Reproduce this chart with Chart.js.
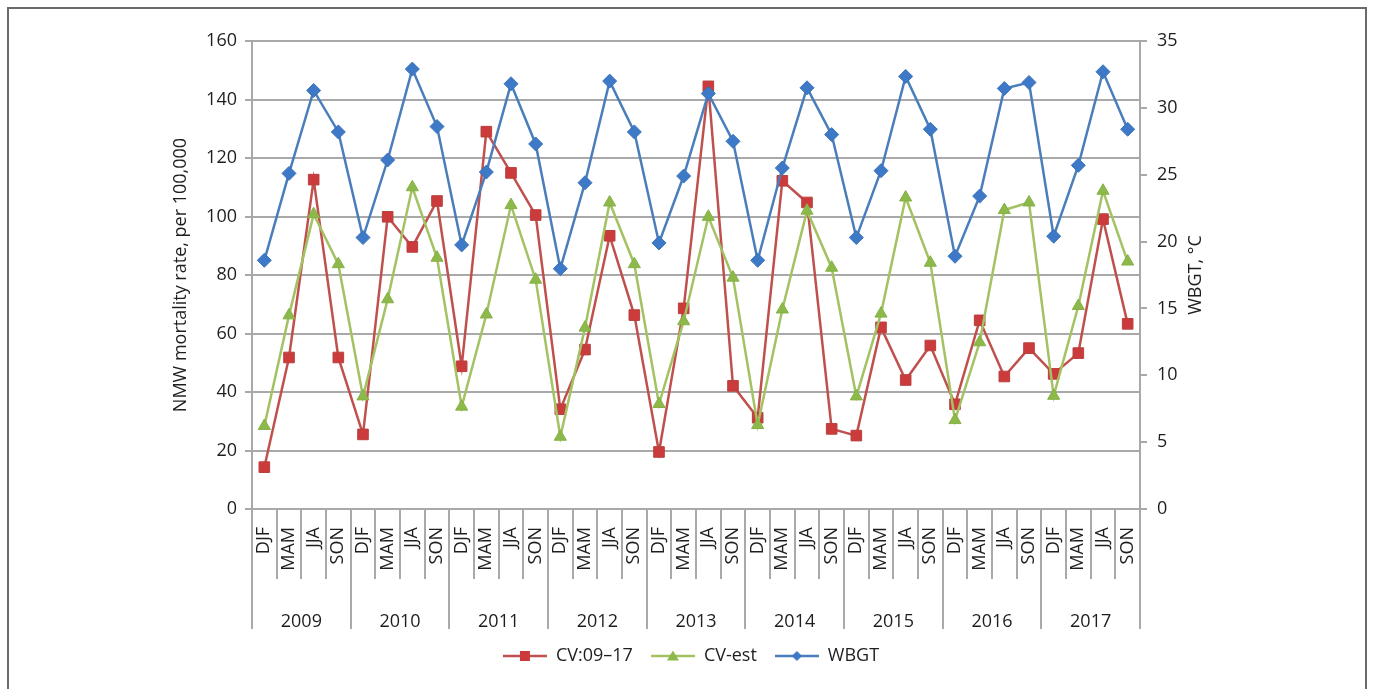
<!DOCTYPE html>
<html><head><meta charset="utf-8">
<script src="https://cdn.jsdelivr.net/npm/chart.js@4/dist/chart.umd.min.js"></script>
<style>
html,body{margin:0;padding:0;background:#fff;overflow:hidden;}
#wrap{position:absolute;left:0;top:0;width:1375px;height:689px;}
#frame{position:absolute;left:7px;top:7px;width:1360px;height:720px;border:2px solid #6a6a6a;box-sizing:border-box;pointer-events:none;}
</style></head><body>
<div id="wrap"><canvas id="c" width="1375" height="689"></canvas></div>
<div id="frame"></div>
<script>
const seasons = ['DJF','MAM','JJA','SON','DJF','MAM','JJA','SON','DJF','MAM','JJA','SON',
                 'DJF','MAM','JJA','SON','DJF','MAM','JJA','SON','DJF','MAM','JJA','SON',
                 'DJF','MAM','JJA','SON','DJF','MAM','JJA','SON','DJF','MAM','JJA','SON'];
const years = ['2009','2010','2011','2012','2013','2014','2015','2016','2017'];
const cvObserved = [14.3, 51.8, 112.6, 51.8, 25.5, 99.9, 89.6, 105.3, 48.8, 129, 114.9, 100.5,
                    34.1, 54.5, 93.4, 66.3, 19.5, 68.6, 144.5, 42.1, 31.2, 112.2, 104.8, 27.4,
                    25.1, 62.1, 44.1, 55.9, 35.8, 64.5, 45.3, 55, 46.2, 53.3, 99.1, 63.3];
const cvEstimated = [28.4, 66.2, 100.8, 83.7, 38.5, 71.7, 110, 85.9, 35, 66.5, 103.9, 78.4,
                     24.7, 62, 104.8, 83.7, 35.9, 64.2, 99.9, 79.1, 28.7, 68.2, 102, 82.5,
                     38.5, 66.8, 106.5, 84.2, 30.4, 57, 102.2, 104.8, 38.7, 69.4, 108.8, 84.6];
const wbgt = [18.6, 25.1, 31.3, 28.2, 20.3, 26.1, 32.9, 28.6, 19.75, 25.2, 31.8, 27.3,
              17.97, 24.4, 32.0, 28.2, 19.9, 24.9, 31.07, 27.5, 18.6, 25.5, 31.5, 28.0,
              20.3, 25.3, 32.35, 28.4, 18.9, 23.4, 31.45, 31.9, 20.4, 25.7, 32.7, 28.4];
const seriesNames = ['CV:09\u201317', 'CV-est', 'WBGT'];
const leftTitle = 'NMW mortality rate, per 100,000';
const rightTitle = 'WBGT, \u00B0C';

const GRID = '#a9a9a9';
const TXT = '#1e1e1e';
const FONT = "'Open Sans', 'Noto Sans', sans-serif";

const RED_LINE = '#c0504d', RED_PT = '#cc3b3b';
const GRN_LINE = '#a3c263', GRN_PT = '#8cb94a';
const BLU_LINE = '#4a7ebb', BLU_PT = '#3d79c6';

function legendIcon(lineColor, fill, shape) {
  const c = document.createElement('canvas');
  c.width = 44; c.height = 16;
  const g = c.getContext('2d');
  g.strokeStyle = lineColor; g.lineWidth = 2.5;
  g.beginPath(); g.moveTo(0, 8); g.lineTo(44, 8); g.stroke();
  g.fillStyle = fill;
  g.beginPath();
  if (shape === 'rect') { g.rect(17, 3, 10, 10); }
  else if (shape === 'triangle') { g.moveTo(22, 2.5); g.lineTo(28, 12.5); g.lineTo(16, 12.5); g.closePath(); }
  else { g.moveTo(22, 3); g.lineTo(27, 8); g.lineTo(22, 13); g.lineTo(17, 8); g.closePath(); }
  g.fill();
  return c;
}
const icons = [
  legendIcon(RED_LINE, RED_PT, 'rect'),
  legendIcon(GRN_LINE, GRN_PT, 'triangle'),
  legendIcon(BLU_LINE, BLU_PT, 'diamond')
];

// right-axis title rotated the same way as the left one (reads bottom-to-top)
const rightTitlePlugin = {
  id: 'rightTitle',
  afterDraw(chart) {
    const s = chart.scales.y2;
    const ctx = chart.ctx;
    ctx.save();
    ctx.translate(s.right - 16, (s.top + s.bottom) / 2);
    ctx.rotate(-Math.PI / 2);
    ctx.font = "18px " + FONT;
    ctx.fillStyle = TXT;
    ctx.textAlign = 'center';
    ctx.textBaseline = 'middle';
    ctx.fillText(rightTitle, 0, 0);
    ctx.restore();
  }
};

new Chart(document.getElementById('c'), {
  type: 'line',
  data: {
    labels: seasons,
    datasets: [
      { label: seriesNames[0], data: cvObserved, yAxisID: 'y', order: 3,
        borderColor: RED_LINE, borderWidth: 2.5, backgroundColor: RED_PT,
        pointStyle: 'rect', pointRadius: 7.5, pointBorderColor: '#b8403e', pointBorderWidth: 1,
        pointBackgroundColor: RED_PT, tension: 0 },
      { label: seriesNames[1], data: cvEstimated, yAxisID: 'y', order: 2,
        borderColor: GRN_LINE, borderWidth: 2.5, backgroundColor: GRN_PT,
        pointStyle: 'triangle', pointRadius: 7, pointBorderColor: '#86b146', pointBorderWidth: 1,
        pointBackgroundColor: GRN_PT, tension: 0 },
      { label: seriesNames[2], data: wbgt, yAxisID: 'y2', order: 1,
        borderColor: BLU_LINE, borderWidth: 2.5, backgroundColor: BLU_PT,
        pointStyle: 'rectRot', pointRadius: 7, pointBorderColor: '#3a72ba', pointBorderWidth: 1,
        pointBackgroundColor: BLU_PT, tension: 0 }
    ]
  },
  options: {
    responsive: false,
    animation: false,
    devicePixelRatio: 1,
    layout: { padding: { left: 170, right: 163, top: 41, bottom: 14 } },
    plugins: {
      tooltip: { enabled: false },
      legend: {
        position: 'bottom',
        labels: {
          usePointStyle: true, pointStyleWidth: 44, padding: 18,
          color: TXT, font: { family: FONT, size: 18 },
          generateLabels: (chart) => chart.data.datasets.map((ds, i) => ({
            text: ds.label, pointStyle: icons[i], fillStyle: ds.borderColor,
            strokeStyle: ds.borderColor, lineWidth: 0, datasetIndex: i, hidden: false,
            fontColor: TXT
          }))
        }
      }
    },
    scales: {
      x: {
        type: 'category', position: 'bottom', offset: true,
        grid: { offset: true, drawOnChartArea: false, drawTicks: true, tickLength: 70, color: GRID, lineWidth: 2 },
        border: { display: true, color: GRID, width: 2 },
        ticks: { autoSkip: false, minRotation: 90, maxRotation: 90, padding: -52, color: TXT,
                 font: { family: FONT, size: 18 } },
        afterFit: (s) => { s.height = 70; }
      },
      years: {
        type: 'category', labels: years, position: 'bottom', offset: true,
        grid: { offset: true, drawOnChartArea: false, drawTicks: true, tickLength: 50, color: GRID, lineWidth: 2 },
        border: { display: false },
        ticks: { autoSkip: false, minRotation: 0, maxRotation: 0, padding: -18, color: TXT,
                 font: { family: FONT, size: 18 } },
        afterFit: (s) => { s.height = 50; }
      },
      y: {
        position: 'left', min: 0, max: 160,
        ticks: { stepSize: 20, padding: 8, color: TXT, font: { family: FONT, size: 18 } },
        grid: { color: GRID, lineWidth: 2, tickLength: 7 },
        border: { color: GRID, width: 2 },
        title: { display: true, text: leftTitle, color: TXT,
                 font: { family: FONT, size: 18 }, padding: 0 },
        afterFit: (s) => { s.width = 82; }
      },
      y2: {
        position: 'right', min: 0, max: 35,
        ticks: { stepSize: 5, padding: 10, color: TXT, font: { family: FONT, size: 18 } },
        grid: { drawOnChartArea: false, color: GRID, lineWidth: 2, tickLength: 7 },
        border: { color: GRID, width: 2 },
        title: { display: false },
        afterFit: (s) => { s.width = 72; }
      }
    }
  },
  plugins: [rightTitlePlugin]
});
</script>
</body></html>
